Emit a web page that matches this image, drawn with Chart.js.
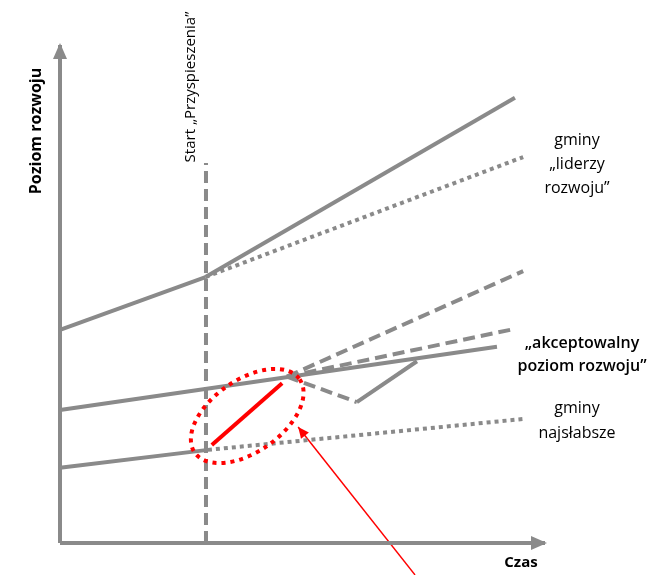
<!DOCTYPE html>
<html lang="pl">
<head>
<meta charset="UTF-8">
<title>Poziom rozwoju gmin w czasie</title>
<script src="https://cdn.jsdelivr.net/npm/chart.js"></script>
<style>
  body { margin: 0; background: #ffffff; }
  #wrap { width: 670px; height: 575px; }
</style>
</head>
<body>
<div id="wrap"><canvas id="wykres" width="670" height="575"></canvas></div>
<script>
// punkty linii (czas, poziom rozwoju) w umownych jednostkach 0-10
const liderzyPrzed = [{x: 0, y: 4.28}, {x: 3, y: 5.34}];
const liderzyPo = [{x: 3, y: 5.34}, {x: 9.38, y: 8.94}];
const liderzyBez = [{x: 3, y: 5.34}, {x: 9.55, y: 7.75}];

const akceptowalny = [{x: 0, y: 2.67}, {x: 9.01, y: 3.94}];
const szybkiWzrost = [{x: 4.68, y: 3.34}, {x: 9.55, y: 5.46}];
const wolnyWzrost = [{x: 4.68, y: 3.34}, {x: 9.38, y: 4.30}];
const spadek = [{x: 4.68, y: 3.34}, {x: 6.12, y: 2.83}];
const powrot = [{x: 6.12, y: 2.83}, {x: 7.36, y: 3.65}];

const najslabszePrzed = [{x: 0, y: 1.51}, {x: 3.05, y: 1.87}];
const najslabszePo = [{x: 3.05, y: 1.87}, {x: 9.55, y: 2.49}];

const startLinia = [{x: 3.01, y: 0}, {x: 3.01, y: 7.63}];
const skok = [{x: 3.13, y: 1.97}, {x: 4.58, y: 3.21}];
const strzalka = [{x: 7.32, y: -0.64}, {x: 4.91, y: 2.33}];

const osY = [{x: 0, y: 0}, {x: 0, y: 10}];
const osX = [{x: 0, y: 0}, {x: 10, y: 0}];

const szary = '#8a8a8a';
const czerwony = '#ff0000';

function linia(data, color, width, dash) {
  return {
    data: data,
    showLine: true,
    borderColor: color,
    borderWidth: width,
    borderDash: dash || [],
    pointRadius: 0,
    clip: false
  };
}

const opisy = {
  id: 'opisy',
  afterDatasetsDraw(chart) {
    const c = chart.ctx;
    const sx = chart.scales.x, sy = chart.scales.y;
    const px = v => sx.getPixelForValue(v);
    const py = v => sy.getPixelForValue(v);

    // groty osi
    c.save();
    c.fillStyle = szary;
    c.beginPath();
    c.moveTo(px(0), py(10) - 2);
    c.lineTo(px(0) - 7, py(10) + 14);
    c.lineTo(px(0) + 7, py(10) + 14);
    c.closePath();
    c.fill();
    c.beginPath();
    c.moveTo(px(10) + 2, py(0));
    c.lineTo(px(10) - 14, py(0) - 7);
    c.lineTo(px(10) - 14, py(0) + 7);
    c.closePath();
    c.fill();

    // grot czerwonej strzalki
    const a = strzalka[0], b = strzalka[1];
    const ang = Math.atan2(py(b.y) - py(a.y), px(b.x) - px(a.x));
    c.fillStyle = czerwony;
    c.translate(px(b.x), py(b.y));
    c.rotate(ang);
    c.beginPath();
    c.moveTo(0, 0);
    c.lineTo(-11, -5);
    c.lineTo(-11, 5);
    c.closePath();
    c.fill();
    c.restore();

    // elipsa wokol skoku
    c.save();
    c.strokeStyle = czerwony;
    c.lineWidth = 4;
    c.setLineDash([4, 5]);
    c.beginPath();
    c.ellipse(px(3.86), py(2.55), 64, 36, -35 * Math.PI / 180, 0, 2 * Math.PI);
    c.stroke();
    c.restore();

    // teksty
    c.save();
    c.fillStyle = '#000000';
    c.textAlign = 'center';
    c.textBaseline = 'middle';

    c.save();
    c.translate(36, 131);
    c.rotate(-Math.PI / 2);
    c.font = 'bold 16px "Open Sans", sans-serif';
    c.fillText('Poziom rozwoju', 0, 0);
    c.restore();

    c.save();
    c.translate(191, 87);
    c.rotate(-Math.PI / 2);
    c.font = '15px "Open Sans", sans-serif';
    c.fillText('Start \u201ePrzyspieszenia\u201d', 0, 0);
    c.restore();

    c.font = '16px "Open Sans", sans-serif';
    c.fillText('gminy', 577, 140);
    c.fillText('\u201eliderzy', 577, 164);
    c.fillText('rozwoju\u201d', 577, 188);

    c.font = '600 16px "Open Sans", sans-serif';
    c.fillText('\u201eakceptowalny', 582, 343);
    c.fillText('poziom rozwoju\u201d', 582, 366);

    c.font = '16px "Open Sans", sans-serif';
    c.fillText('gminy', 577, 408);
    c.fillText('najs\u0142absze', 577, 433);

    c.font = 'bold 15px "Open Sans", sans-serif';
    c.fillText('Czas', 521, 563);
    c.restore();
  }
};

new Chart(document.getElementById('wykres'), {
  type: 'scatter',
  data: {
    datasets: [
      linia(osY, szary, 4),
      linia(osX, szary, 4),
      linia(startLinia, szary, 4, [12, 6]),
      linia(liderzyPrzed, szary, 4),
      linia(liderzyPo, szary, 4),
      linia(liderzyBez, szary, 4, [4, 4]),
      linia(akceptowalny, szary, 4),
      linia(szybkiWzrost, szary, 4, [12, 6]),
      linia(wolnyWzrost, szary, 4, [12, 6]),
      linia(spadek, szary, 4, [12, 6]),
      linia(powrot, szary, 4),
      linia(najslabszePrzed, szary, 4),
      linia(najslabszePo, szary, 4, [4, 4]),
      linia(skok, czerwony, 4),
      linia(strzalka, czerwony, 1.5)
    ]
  },
  options: {
    responsive: false,
    animation: false,
    layout: { padding: { left: 60, right: 125, top: 45, bottom: 32 } },
    plugins: { legend: { display: false }, tooltip: { enabled: false } },
    scales: {
      x: { type: 'linear', min: 0, max: 10, display: false },
      y: { type: 'linear', min: 0, max: 10, display: false }
    }
  },
  plugins: [opisy]
});
</script>
</body>
</html>
